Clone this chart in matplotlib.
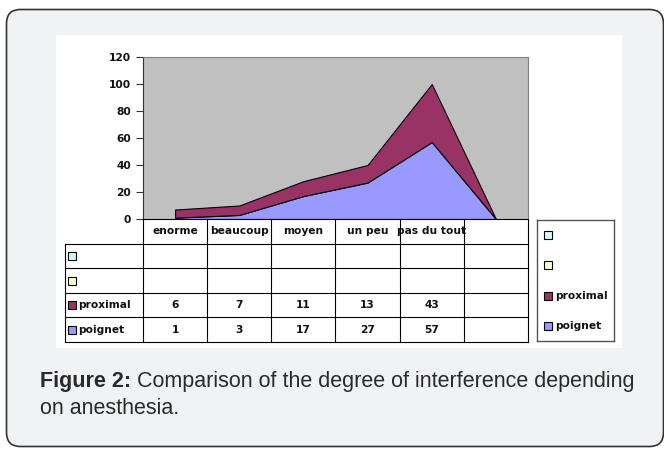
import matplotlib.pyplot as plt
import numpy as np
from matplotlib.patches import FancyBboxPatch, Rectangle

# data
categories = ['enorme', 'beaucoup', 'moyen', 'un peu', 'pas du tout', '']
poignet = [1, 3, 17, 27, 57, 0]
proximal = [6, 7, 11, 13, 43, 0]
row_names = ['', '', 'proximal', 'poignet']
row_colors = ['#ccffff', '#ffffcc', '#993366', '#9999ff']
y_ticks = [0, 20, 40, 60, 80, 100, 120]
caption_bold = 'Figure 2:'
caption_line1 = ' Comparison of the degree of interference depending'
caption_line2 = 'on anesthesia.'

W, H = 664, 449
CHART_FONT = 'DejaVu Sans'
FS = 7.7
fig = plt.figure(figsize=(W / 100, H / 100), dpi=100)


def px_axes(x0, y0, x1, y1):
    # axes placed with pixel coordinates (top-left origin)
    return fig.add_axes([x0 / W, 1 - y1 / H, (x1 - x0) / W, (y1 - y0) / H])


# --- background: rounded frame + white chart area ---
bg = fig.add_axes([0, 0, 1, 1])
bg.set_xlim(0, W)
bg.set_ylim(H, 0)
bg.axis('off')
bg.add_patch(FancyBboxPatch((6.5, 9.5), 657, 437,
                            boxstyle='round,pad=0,rounding_size=14',
                            fc='#f1f2f4', ec='#333333', lw=1.2))
bg.add_patch(Rectangle((56, 35), 566, 313, fc='white', ec='none'))

# --- stacked area plot ---
ax = px_axes(143, 57, 528, 219)
ax.set_facecolor('#c0c0c0')
x = np.arange(len(categories))
ax.stackplot(x, poignet, proximal, colors=[row_colors[3], row_colors[2]],
             edgecolor='black', linewidth=0.8)
ax.set_xlim(-0.5, len(categories) - 0.5)
ax.set_ylim(0, 120)
ax.set_yticks(y_ticks)
ax.set_xticks([])
for side in ['top', 'right']:
    ax.spines[side].set_color('#808080')
ax.spines['left'].set_color('#333333')
ax.spines['bottom'].set_color('black')
ax.tick_params(axis='y', direction='out', length=5, width=0.8, color='#333333')
for lbl in ax.get_yticklabels():
    lbl.set_fontfamily(CHART_FONT)
    lbl.set_fontweight('bold')
    lbl.set_fontsize(FS)
    lbl.set_color('#111111')

# --- data table under the plot ---
tx = px_axes(143, 219, 528, 342)
tx.set_xlim(ax.get_xlim())
tx.set_ylim(len(row_names) + 1, 0)
tx.axis('off')
cw = 385 / len(categories)
xl = -0.5 - 78 / cw
nrows = len(row_names) + 1
lk = dict(color='black', lw=0.8, clip_on=False)
for i in range(len(categories) + 1):
    tx.plot([i - 0.5, i - 0.5], [0, nrows], **lk)
tx.plot([xl, xl], [1, nrows], **lk)
for r in range(1, nrows + 1):
    tx.plot([xl, len(categories) - 0.5], [r, r], **lk)

tfont = dict(family=CHART_FONT, weight='bold', fontsize=FS, color='#111111')
for i, c in enumerate(categories):
    tx.text(i, 0.5, c, ha='center', va='center', **tfont)

table_values = [None, None, proximal, poignet]
for r, (name, col, vals) in enumerate(zip(row_names, row_colors, table_values)):
    yc = r + 1.5
    tx.add_patch(Rectangle((xl + 3 / cw, yc - 4 / 24.6), 8 / cw, 8 / 24.6,
                           fc=col, ec='black', lw=0.8, clip_on=False))
    tx.text(xl + 13 / cw, yc, name, ha='left', va='center', **tfont)
    if vals is not None:
        for i, v in enumerate(vals):
            if categories[i]:
                tx.text(i, yc, str(v), ha='center', va='center', **tfont)

# --- legend box ---
lg = px_axes(537, 220, 614, 341)
lg.set_xlim(0, 77)
lg.set_ylim(121, 0)
lg.set_xticks([])
lg.set_yticks([])
for s in lg.spines.values():
    s.set_color('#555555')
    s.set_linewidth(1)
for k, (name, col) in enumerate(zip(row_names, row_colors)):
    yc = 15 + 30.3 * k
    lg.add_patch(Rectangle((7, yc - 4), 8, 8, fc=col, ec='black', lw=0.8))
    lg.text(18, yc, name, ha='left', va='center', **tfont)

# --- caption ---
cfont = dict(family='Liberation Sans', fontsize=15.5, color='#2a2a2a', va='center')
t_bold = bg.text(40, 382, caption_bold, weight='bold', **cfont)
fig.canvas.draw()
bb = t_bold.get_window_extent().transformed(bg.transData.inverted())
bg.text(bb.x1, 382, caption_line1, **cfont)
bg.text(40, 408, caption_line2, **cfont)

fig.savefig('out.png', dpi=100)
